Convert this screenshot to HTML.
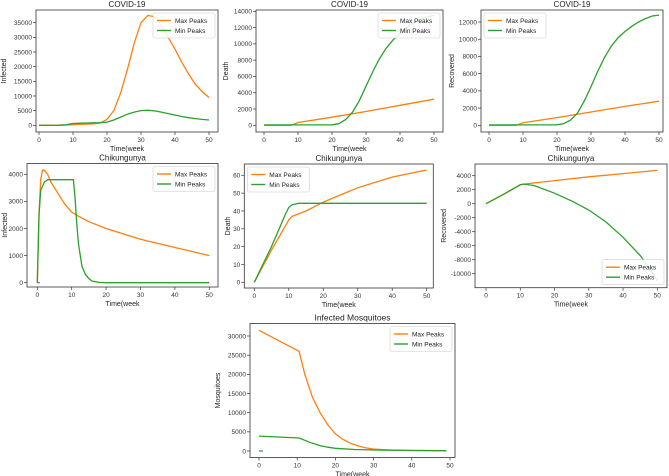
<!DOCTYPE html>
<html><head><meta charset="utf-8"><style>
body{margin:0;background:#fff;}
svg{display:block;font-family:"Liberation Sans","DejaVu Sans",sans-serif;}
</style></head><body>
<svg id="fig" width="669" height="476" viewBox="0 0 669 476"></svg>
<script>
// ---- data (x in weeks, y values) ----
const xTicks=[0,10,20,30,40,50];
const p1X=[0,2,4,6,8,10,12,14,16,18,20,22,24,26,28,30,32,34,36,38,40,42,44,46,48,50];
const p1Max=[0,0,0,0,100,200,300,400,500,800,2000,5000,11000,19000,28000,35000,37500,37000,34000,30000,26000,21500,17500,14000,11500,9500];
const p1Min=[0,0,0,50,200,600,700,800,850,900,1100,1800,2800,3800,4500,5000,5100,4900,4500,4000,3500,3000,2600,2300,2000,1800];
const p2X=[0,8,10,20,30,40,50];
const p2Max=[0,0,350,1000,1700,2450,3200];
const p2MinX=[0,10,20,22,24,26,28,30,32,34,36,38,40,42,44,46,48,50];
const p2Min=[50,50,60,200,700,1600,3000,4800,6600,8200,9500,10500,11300,12000,12600,13000,13300,13500];
const p3X=[0,8,10,20,30,40,50];
const p3Max=[0,0,300,900,1550,2200,2800];
const p3MinX=[0,10,20,22,24,26,28,30,32,34,36,38,40,42,44,46,48,50];
const p3Min=[50,50,60,200,600,1400,2800,4500,6300,7900,9200,10200,10900,11500,12000,12400,12700,12800];
const p4MaxX=[0,0.5,1,1.5,2,3,4,6,8,10,12,15,20,25,30,35,40,45,50];
const p4Max=[0,2500,3800,4150,4150,4000,3700,3300,2900,2600,2450,2250,2000,1800,1600,1450,1300,1150,1000];
const p4MinX=[0,0.5,1,2,3,10.5,11,11.5,12,12.5,13,14,15,16,18,20,50];
const p4Min=[0,2500,3400,3700,3800,3800,3100,2100,1400,1000,600,300,150,60,10,0,0];
const p5MaxX=[0,5,10,11,15,20,25,30,35,40,45,50];
const p5Max=[0,18,35,37,40,45,49,53,56,59,61,63];
const p5MinX=[0,5,9,10,11,13,50];
const p5Min=[0,20,38,42,43.5,44.3,44.3];
const p6MaxX=[0,5,10,11,20,30,40,50];
const p6Max=[0,1300,2700,2800,3300,3850,4300,4750];
const p6MinX=[0,5,10,11,14,20,25,30,35,40,45,48,50];
const p6Min=[0,1300,2700,2800,2600,1500,400,-900,-2600,-4800,-7400,-9400,-11000];
const p7MaxX=[0,10.5,12,14,16,18,20,22,24,26,28,30,35,40,49];
const p7Max=[31500,26000,20000,14000,10000,6800,4500,3000,2000,1300,800,500,200,100,50];
const p7MinX=[0,10.5,12,14,16,18,20,25,30,40,49];
const p7Min=[3900,3400,2800,2000,1400,1000,700,400,250,150,100];

const NS='http://www.w3.org/2000/svg';
const fig=document.getElementById('fig');
function mk(tag,attrs,parent,text){const e=document.createElementNS(NS,tag);for(const k in attrs)e.setAttribute(k,attrs[k]);if(text!==undefined)e.textContent=text;(parent||fig).appendChild(e);return e;}
const ORANGE='#ff7f0e',GREEN='#2ca02c';

function panel(cfg){
  const g=mk('g',{});
  
  
  const [L,T,R,B]=cfg.box;
  const sx=v=>cfg.x0+(cfg.x50-cfg.x0)*v/50;
  const sy=v=>cfg.ya[1]+(cfg.yb[1]-cfg.ya[1])*(v-cfg.ya[0])/(cfg.yb[0]-cfg.ya[0]);
  const clip='c'+cfg.name;
  const cp=mk('clipPath',{id:clip},g);mk('rect',{x:L,y:T,width:R-L,height:B-T},cp);
  cfg.series.forEach(s=>{
    const pts=s.x.map((xv,i)=>sx(xv).toFixed(1)+','+sy(s.y[i]).toFixed(1)).join(' ');
    const pl=mk('polyline',{points:pts,fill:'none',stroke:s.c,'stroke-width':1.3,'clip-path':'url(#'+clip+')'},g);
    
    
  });
  if(cfg.blue){const b=mk('line',{x1:sx(0),x2:sx(cfg.blue),y1:sy(0),y2:sy(0),stroke:'#1f77b4','stroke-width':1.2},g);
    }
  mk('rect',{x:L,y:T,width:R-L,height:B-T,fill:'none',stroke:'#333','stroke-width':0.8},g);
  xTicks.forEach(t=>{const x=sx(t);mk('line',{x1:x,x2:x,y1:B,y2:B+3,stroke:'#333','stroke-width':0.7},g);
    const tl=mk('text',{x:x,y:B+10,'font-size':6.5,'text-anchor':'middle',fill:'#333'},g,String(t));
    });
  cfg.yt.forEach(t=>{const y=sy(t);mk('line',{x1:L-3,x2:L,y1:y,y2:y,stroke:'#333','stroke-width':0.7},g);
    const tl=mk('text',{x:L-4,y:y+2.3,'font-size':6.5,'text-anchor':'end',fill:'#333'},g,String(t));
    });
  const ti=mk('text',{x:(L+R)/2,y:T-3,'font-size':cfg.tfs||8,'text-anchor':'middle',fill:'#222'},g,cfg.title);
  
  const xl=mk('text',{x:(L+R)/2,y:B+19,'font-size':7,'text-anchor':'middle',fill:'#222'},g,'Time(week');
  
  const yl=mk('text',{x:0,y:0,'font-size':7,'text-anchor':'middle',fill:'#222',transform:`translate(${cfg.ylx},${(T+B)/2}) rotate(-90)`},g,cfg.ylabel);
  
  const w=62,h=25;let lx,ly;
  if(cfg.leg==='tr'){lx=R-w-3;ly=T+3;}else if(cfg.leg==='tl'){lx=L+3;ly=T+3;}else{lx=R-w-3;ly=B-h-3;}
  const lg=mk('g',{},g);
  mk('rect',{x:lx,y:ly,width:w,height:h,rx:2,fill:'#fff','fill-opacity':0.85,stroke:'#ccc','stroke-width':0.6},lg);
  [['Max Peaks',ORANGE],['Min Peaks',GREEN]].forEach((e,i)=>{const yy=ly+7.5+i*10;
    const en=mk('g',{},lg);
    mk('line',{x1:lx+4,x2:lx+18,y1:yy,y2:yy,stroke:e[1],'stroke-width':1.4},en);
    mk('text',{x:lx+22,y:yy+2.3,'font-size':6.5,fill:'#222'},en,e[0]);});
}
const rng=(a,b,s)=>{const r=[];for(let v=a;v<=b;v+=s)r.push(v);return r;};
panel({name:'covid-infected',box:[36,10,218,132],x0:39,x50:209,ya:[0,125.3],yb:[35000,22.7],yt:rng(0,35000,5000),title:'COVID-19',ylabel:'Infected',ylx:6,leg:'tr',
  series:[{x:p1X,y:p1Max,c:ORANGE,n:'max-peaks-line'},{x:p1X,y:p1Min,c:GREEN,n:'min-peaks-line'}]});
panel({name:'covid-death',box:[256,10,443,132],x0:264,x50:434,ya:[0,125.3],yb:[14000,11.3],yt:rng(0,14000,2000),title:'COVID-19',ylabel:'Death',ylx:228,leg:'tr',
  series:[{x:p2X,y:p2Max,c:ORANGE,n:'max-peaks-line'},{x:p2MinX,y:p2Min,c:GREEN,n:'min-peaks-line'}]});
panel({name:'covid-recovered',box:[481,10,663,132],x0:489,x50:659,ya:[0,125.3],yb:[12000,22],yt:rng(0,12000,2000),title:'COVID-19',ylabel:'Recovered',ylx:454,leg:'tl',
  series:[{x:p3X,y:p3Max,c:ORANGE,n:'max-peaks-line'},{x:p3MinX,y:p3Min,c:GREEN,n:'min-peaks-line'}]});
panel({name:'chik-infected',box:[27,163.5,218,287],x0:37.3,x50:209.3,ya:[0,282.7],yb:[4000,174.3],yt:rng(0,4000,1000),title:'Chikungunya',ylabel:'Infected',ylx:7,leg:'tr',blue:0.7,
  series:[{x:p4MaxX,y:p4Max,c:ORANGE,n:'max-peaks-line'},{x:p4MinX,y:p4Min,c:GREEN,n:'min-peaks-line'}]});
panel({name:'chik-death',box:[244.3,164,433.3,288],x0:254.3,x50:426.7,ya:[0,282.3],yb:[60,175.3],yt:rng(0,60,10),title:'Chikungunya',ylabel:'Death',ylx:230,leg:'tl',
  series:[{x:p5MaxX,y:p5Max,c:ORANGE,n:'max-peaks-line'},{x:p5MinX,y:p5Min,c:GREEN,n:'min-peaks-line'}]});
panel({name:'chik-recovered',box:[475,164,667,287.7],x0:486,x50:657.3,ya:[0,203.7],yb:[4000,175.7],yt:rng(-10000,4000,2000),title:'Chikungunya',ylabel:'Recovered',ylx:446,leg:'br',
  series:[{x:p6MaxX,y:p6Max,c:ORANGE,n:'max-peaks-line'},{x:p6MinX,y:p6Min,c:GREEN,n:'min-peaks-line'}]});
panel({name:'infected-mosquitoes',box:[250,323.5,455,457.5],x0:259,x50:450,ya:[0,451],yb:[30000,336],yt:rng(0,30000,5000),title:'Infected Mosquitoes',tfs:8.5,ylabel:'Mosquitoes',ylx:220,leg:'tr',blue:1,
  series:[{x:p7MaxX,y:p7Max,c:ORANGE,n:'max-peaks-line'},{x:p7MinX,y:p7Min,c:GREEN,n:'min-peaks-line'}]});
</script>
</body></html>
